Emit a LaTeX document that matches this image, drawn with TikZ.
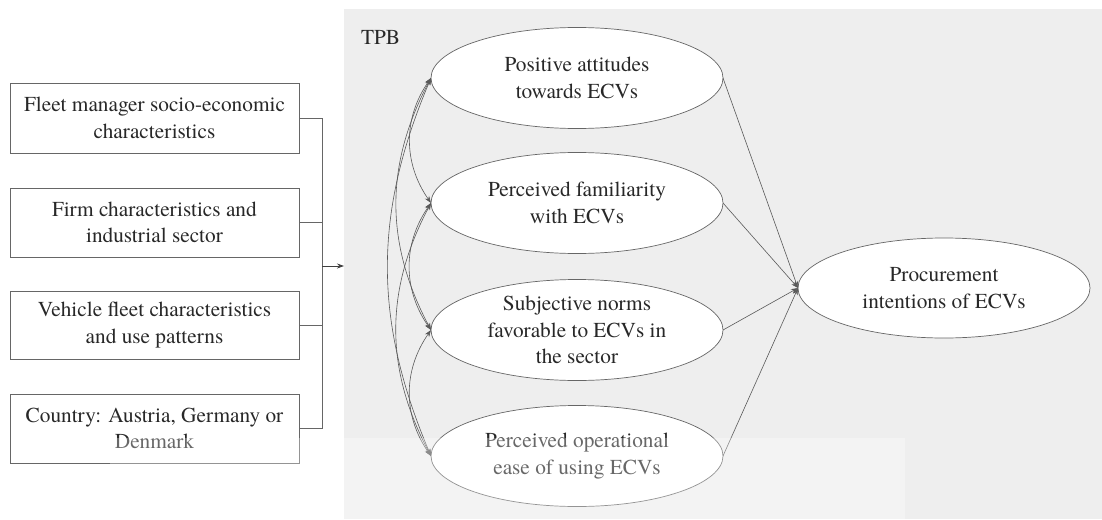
\documentclass[tikz,border=0pt]{standalone}
\usepackage{fontspec}
\setmainfont{TeX Gyre Termes}
\usetikzlibrary{arrows.meta,shapes.geometric}
\definecolor{panel}{HTML}{EEEEEE}
\definecolor{ink}{HTML}{282828}
\definecolor{edge}{HTML}{666666}
\begin{document}
\begin{tikzpicture}[x=1pt,y=-1pt,
  every node/.style={inner sep=0pt, outer sep=0pt, text=ink,
    font=\rmfamily\fontsize{21.3}{26.5}\selectfont, align=center},
  factor/.style={draw=edge, line width=0.8pt, minimum width=289pt, minimum height=70pt},
  construct/.style={ellipse, draw=edge, fill=white, line width=0.7pt,
    minimum width=292pt, minimum height=101pt},
  link/.style={draw=edge, line width=0.8pt},
  tip/.style={-{Stealth[length=7pt,width=5pt]}},
  path/.style={draw=black!65, line width=0.6pt, -{Stealth[length=7pt,width=5pt]}},
  cov/.style={draw=black!65, line width=0.6pt,
    {Stealth[length=7pt,width=5pt]}-{Stealth[length=7pt,width=5pt]}}
]
\useasboundingbox (0,0) rectangle (1102,519);

% TPB panel
\node[fill=panel, minimum width=758pt, minimum height=510pt, anchor=north west] (tpb) at (344,9) {};
\node[anchor=west] (tpblabel) at (361,37) {TPB};

% background factors
\node[factor, minimum height=70pt] (f1) at (154.5,118) {Fleet manager socio-economic\\characteristics};
\node[factor, minimum height=69pt] (f2) at (154.5,222.5) {Firm characteristics and\\industrial sector};
\node[factor, minimum height=68pt] (f3) at (154.5,325) {Vehicle fleet characteristics\\and use patterns};
\node[factor, minimum height=69pt] (f4) at (154.5,428.5) {Country: Austria, Germany or\\Denmark};

% bracket joining the factors
\coordinate (join) at (322,266);
\draw[link] (f1.east) -- (f1.east -| join) -- (f4.east -| join) -- (f4.east);
\draw[link] (f2.east) -- (f2.east -| join);
\draw[link] (f3.east) -- (f3.east -| join);
\draw[link, tip, draw=black!75] (join) -- (join -| tpb.west);

% TPB constructs
\node[construct] (e1) at (577,78) {};
\node (e1text) at (e1) {Positive attitudes\\towards ECVs};
\node[construct] (e2) at (577,203) {};
\node (e2text) at (e2) {Perceived familiarity\\with ECVs};
\node[construct] (e3) at (577,330) {};
\node (e3text) at (e3) {Subjective norms\\favorable to ECVs in\\the sector};
\node[construct] (e4) at (577,456) {};
\node (e4text) at (e4) {Perceived operational\\ease of using ECVs};
\node[construct, minimum width=292pt, minimum height=100pt] (proc) at (944,288) {};
\node (proctext) at (proc) {Procurement\\intentions of ECVs};

% paths to intention
\foreach \e in {e1,e2,e3,e4}
  \draw[path] (\e.east) -- (proc.west);

% correlations among constructs
\draw[cov] (e1.west) to[bend right=35] (e2.west);
\draw[cov] (e2.west) to[bend right=35] (e3.west);
\draw[cov] (e3.west) to[bend right=35] (e4.west);
\draw[cov] (e1.west) to[bend right=28] (e3.west);
\draw[cov] (e2.west) to[bend right=28] (e4.west);
\draw[cov] (e1.west) to[bend right=23] (e4.west);

% faded lower band
\fill[white, opacity=0.3] (110,438) rectangle (905,519);
\end{tikzpicture}
\end{document}
